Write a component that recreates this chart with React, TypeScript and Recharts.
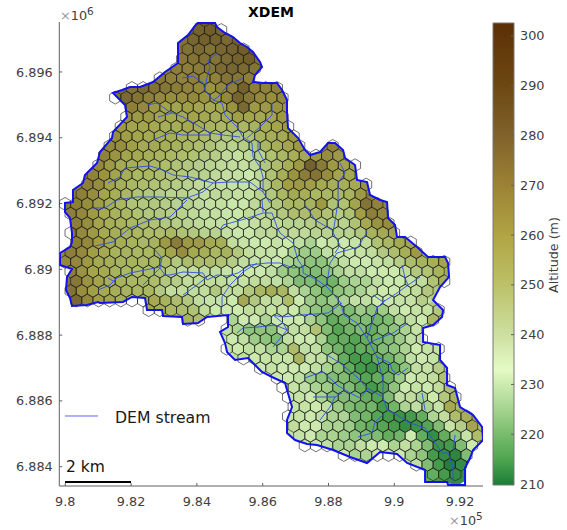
import React from 'react';
import { ScatterChart, Scatter, XAxis, YAxis, BarChart, Bar } from 'recharts';

const FONT = '"DejaVu Sans", sans-serif';
const INK = '#404040';

// Axis ticks (metres, UTM-like) and their labels
const xTickValues = [980000, 982000, 984000, 986000, 988000, 990000, 992000];
const xTickLabels = ['9.8', '9.82', '9.84', '9.86', '9.88', '9.9', '9.92'];
const yTickValues = [6884000, 6886000, 6888000, 6890000, 6892000, 6894000, 6896000];
const yTickLabels = ['6.884', '6.886', '6.888', '6.89', '6.892', '6.894', '6.896'];
const barTicks = [210, 220, 230, 240, 250, 260, 270, 280, 290, 300];

// DEM colour map
const colorAlt = [209.8, 215, 220, 225, 230, 233, 240, 250, 260, 270, 280, 290, 302.6];
const colorHex = ['#1a7d36', '#4fa650', '#79bc6e', '#a5d48f', '#cdeaaf', '#e4fbc6', '#cde0a0', '#bcc168', '#b1a444', '#9c8235', '#80622a', '#6d4812', '#5c2f05'];

// Map grid: all positions are DEM cells (about 30.4 m) from the 9.8 / 6.884 origin
const CELL = 30.4;
const hexColStep = 11.15;
const hexRowStep = 9.66;
const hexOriginX = 145;
const hexOriginY = 437;

// First hex column of every row, then altitudes (m) read west to east
const rowFirstCol = [-1, -2, -2, -3, -3, -5, -7, -9, -7, -8, -8, -9, -9, -10, -10, -11, -11, -12, -13, -13, -12, -13, -12, -13, -13, -13, -12, -13, -12, -6, -2, 1, 2, 1, 3, 4, 6, 6, 7, 7, 7, 7, 8, 8, 12, 18, 20];
const rowAltitudes: (number | null)[][] = [
  [282, 284, 280],
  [280, 283, 282, 279],
  [276, 279, 276, 280, 282, 284],
  [274, 275, 276, 275, 279, 282, 284],
  [271, 271, 272, 274, 279, 280, 279, 275],
  [274, 271, 270, 271, 268, 270, 275, 274, 271],
  [276, 279, 276, 274, 272, 270, 268, 264, 268, 271, 282, 271, 270, 271],
  [276, 279, 275, 271, 268, 266, 266, 268, 264, 262, 268, 281, 274, 268, 266, 268],
  [271, 268, 262, 258, 258, 260, 258, 256, 256, 264, 279, 262, 262, 264],
  [265, 262, 262, 258, 256, 256, 258, 256, 254, 256, 260, 258, 256, 258, 262],
  [262, 258, 258, 256, 254, 254, 256, 254, 252, 250, 250, 250, 252, 254, 258, 262],
  [266, 260, 258, 256, 254, 254, 252, 250, 248, 246, 244, 244, 246, 252, 254, 256, 262],
  [268, 266, 260, 256, 256, 254, 252, 250, 248, 246, 242, 240, 242, 244, 250, 254, 258, 262, null, null, 270],
  [270, 264, 258, 256, 254, 252, 250, 248, 246, 244, 242, 238, 236, 238, 240, 246, 250, 254, 256, 262, 266, 262],
  [268, 262, 256, 254, 252, 250, 248, 246, 244, 242, 240, 238, 237, 236, 238, 244, 248, 254, 262, 282, 273, 262, 258, 256],
  [270, 264, 258, 254, 250, 250, 248, 246, 244, 242, 240, 238, 236, 236, 234, 238, 246, 254, 264, 272, 275, 266, 258, 256],
  [271, 266, 258, 254, 250, 248, 246, 244, 242, 240, 238, 237, 236, 235, 235, 236, 242, 250, 260, 262, 260, 256, 254, 254, 256, 264],
  [271, 266, 258, 254, 250, 246, 244, 242, 240, 240, 238, 236, 238, 238, 236, 236, 240, 244, 250, 256, 254, 250, 250, 250, 252, 262],
  [273, 271, 266, 260, 254, 250, 246, 244, 244, 242, 240, 240, 238, 236, 236, 234, 234, 238, 240, 244, 250, 250, 252, 262, 246, 246, 258, 275, 270],
  [271, 268, 262, 256, 252, 250, 246, 244, 244, 242, 240, 238, 236, 236, 234, 234, 238, 238, 240, 244, 248, 248, 250, 246, 242, 246, 260, 271, 268],
  [271, 266, 258, 254, 252, 250, 248, 246, 244, 242, 240, 238, 236, 236, 234, 234, 236, 238, 238, 240, 240, 242, 244, 240, 240, 246, 256, 264, 266],
  [274, 268, 262, 256, 254, 252, 250, 248, 248, 250, 246, 244, 240, 240, 236, 234, 234, 238, 238, 238, 238, 238, 240, 240, 240, 240, 244, 252, 256, 258],
  [272, 268, 260, 256, 254, 252, 250, 252, 262, 272, 262, 262, 256, 254, 237, 235, 233, 233, 235, 233, 231, 228, 233, 235, 233, 235, 237, 246, 250, 256, 258],
  [271, 268, 260, 256, 252, 252, 250, 250, 252, 258, 266, 256, 254, 250, 252, 244, 237, 235, 235, 233, 228, 226, 226, 231, 233, 233, 235, 237, 244, 248, 254, 262],
  [268, 268, 262, 256, 254, 252, 252, 250, 250, 248, 244, 248, 248, 248, 246, 242, 237, 235, 235, 233, 228, 226, 224, 224, 228, 231, 233, 233, 235, 237, 242, 248, 252, 254, 258],
  [271, 264, 258, 256, 252, 250, 248, 248, 246, 242, 237, 237, 237, 237, 235, 233, 233, 233, 231, 226, 224, 222, 222, 224, 228, 231, 231, 233, 233, 233, 237, 244, 246, 252],
  [274, 264, 258, 254, 252, 250, 250, 248, 244, 242, 237, 237, 237, 237, 235, 235, 237, 237, 231, 228, 222, 222, 220, 220, 226, 228, 228, 231, 233, 233, 235, 237, 246, 254],
  [275, 266, 260, 256, 254, 252, 250, 250, 244, 237, 237, 237, 237, 244, 237, 237, 244, 250, 254, 250, 237, 228, 224, 220, 224, 226, 228, 231, 233, 233, 235, 237, 244],
  [279, 268, 260, 258, 254, 250, 256, 256, 252, 248, 244, 237, 235, 235, 233, 256, 244, 237, 237, 248, 233, 226, 224, 226, 228, 231, 231, 233, 233, 235, 235, 242],
  [258, 254, 250, 248, 246, 237, 233, 233, 233, 237, 237, 235, 235, 233, 228, 224, 222, 224, 222, 226, 224, 226, 231, 233, 235, 235, 244],
  [252, 248, null, null, 228, 233, 233, 228, 233, 233, 233, 228, 224, 218, 220, 222, 222, 220, 222, 228, 231, 233, 250],
  [231, 228, 224, 224, 224, 231, 231, 231, 246, 222, 216, 220, 222, 218, 222, 224, 228, 235],
  [233, 231, 226, 224, 222, 231, 233, 233, 228, 218, 218, 216, 218, 220, 222, 226, 231, 237],
  [235, 233, 231, 231, 228, 228, 248, 231, 231, 224, 220, 216, 218, 218, 222, 224, 228, 233, 235, 235],
  [231, 233, 235, 235, 235, 252, 235, 231, 228, 218, 214, 214, 218, 220, 224, 231, 233, 235],
  [233, 235, 233, 233, 233, 231, 228, 224, 218, 214, 213, 216, 218, 224, 231, 235, 242],
  [233, 233, 231, 226, 224, 222, 222, 218, 216, 218, 220, 226, 233, 235, 237, 246],
  [235, 235, 231, 228, 226, 222, 222, 218, 214, 216, 224, 233, 235, 233, 237, 248],
  [235, 235, 233, 228, 222, 222, 222, 218, 216, 222, 231, 237, 228, 233, 244, 252],
  [235, 235, 233, 231, 226, 222, 220, 220, 214, 220, 228, 231, 228, 235, 256],
  [235, 235, 233, 231, 228, 228, 222, 220, 216, 214, 213, 214, 218, 228, 237, 248, 254],
  [237, 233, 233, 228, 228, 226, 220, 218, 216, 214, 212, 213, 216, 222, 235, 242, 258],
  [235, 233, 228, 228, 226, 224, 222, 222, 218, 220, 233, 218, 212, 218, 224, 235, 248],
  [235, 233, 231, 228, 228, 231, 233, 233, 228, 231, 228, 222, 213, 214, 222, 233],
  [233, 228, 228, 233, 235, 233, 228, 224, 214, 212, 211, 222],
  [231, 222, 214, 210, 212],
  [218, 214, 212],
];

// Basin outline in DEM cells, clockwise from the northern summit
const basinCells = [
  [132, 444], [150, 444], [152, 440], [160, 434], [168, 430], [175, 424], [182, 420], [188, 415], [195, 405], [197, 400], [190, 392], [188, 385], [198, 384], [212, 384], [217, 377], [222, 367], [222, 354], [223, 339], [225, 337], [233, 329], [240, 317], [245, 312], [255, 315], [263, 324], [270, 324], [278, 317], [280, 309], [290, 302], [292, 287], [302, 285], [305, 272], [315, 267], [322, 265], [323, 249], [330, 242], [332, 230], [340, 230], [352, 220], [363, 210], [380, 210], [383, 204], [384, 190], [375, 180], [368, 167], [378, 157], [377, 150], [368, 142], [358, 139], [358, 125], [375, 122], [375, 107], [382, 99], [382, 82], [390, 79], [395, 60], [408, 52], [417, 40], [418, 27], [408, 17], [405, 9], [400, -1], [400, -18], [383, -18], [382, -15], [360, -15], [360, -3], [342, 4], [332, 13], [315, 15], [302, 4], [285, 10], [268, 17], [252, 22], [242, 23], [230, 27], [222, 34], [222, 47], [227, 60], [222, 77], [220, 84], [207, 90], [197, 95], [183, 109], [170, 107], [162, 115], [160, 124], [155, 135], [163, 140], [163, 152], [142, 150], [133, 144], [118, 143], [117, 150], [98, 151], [97, 157], [82, 157], [80, 169], [67, 170], [58, 165], [35, 164], [33, 165], [22, 162], [7, 161], [5, 169], [1, 177], [2, 190], [7, 198], [-5, 202], [-5, 214], [5, 220], [7, 225], [7, 234], [5, 249], [0, 255], [0, 264], [8, 265], [8, 277], [18, 284], [20, 292], [32, 304], [35, 315], [47, 329], [48, 335], [62, 350], [60, 362], [55, 367], [48, 374], [57, 377], [65, 380], [75, 380], [88, 385], [100, 395], [113, 404], [113, 424], [123, 432], [132, 444],
];

// DEM stream network, one list per reach, in DEM cells
const streamReaches = [
  [[153, 414], [143, 407], [145, 399], [142, 390], [140, 377], [148, 367], [157, 364], [160, 352], [172, 340], [178, 330], [187, 324], [188, 310], [195, 300], [198, 290], [198, 275]],
  [[117, 389], [128, 391], [138, 384], [140, 377]],
  [[178, 389], [163, 382], [153, 370], [148, 367]],
  [[207, 364], [207, 352], [195, 340], [182, 329]],
  [[82, 362], [92, 364], [105, 355], [118, 350], [132, 342], [145, 334], [158, 332], [175, 330]],
  [[93, 350], [107, 354]],
  [[88, 327], [105, 334], [118, 332], [145, 332]],
  [[43, 284], [55, 290], [60, 299], [85, 301], [98, 297], [108, 292], [125, 290], [148, 284], [165, 285], [185, 285], [198, 275], [205, 264]],
  [[27, 259], [40, 259], [52, 267], [72, 270], [92, 270], [122, 269], [138, 275], [148, 284]],
  [[30, 221], [48, 225], [65, 239], [85, 247], [105, 250], [122, 267]],
  [[155, 237], [158, 242], [180, 248], [198, 254], [207, 254], [212, 240], [215, 234], [228, 224], [233, 207], [238, 200], [238, 194], [252, 187], [262, 180], [275, 165], [279, 152], [292, 144], [302, 129], [312, 110], [318, 87], [318, 70], [322, 57], [332, 52], [345, 44], [360, 39], [368, 27], [377, 14], [383, 14], [388, 0], [388, -16]],
  [[197, 267], [198, 255]],
  [[98, 192], [105, 192], [118, 195], [138, 194], [142, 187], [152, 192], [162, 191], [173, 194], [185, 202], [202, 204], [215, 204], [228, 199], [238, 200]],
  [[90, 217], [97, 209], [95, 199], [100, 192]],
  [[33, 177], [45, 182], [52, 189], [65, 194], [95, 200]],
  [[78, 182], [95, 199]],
  [[43, 189], [50, 185]],
  [[118, 172], [132, 182], [142, 190]],
  [[157, 160], [157, 170], [165, 182], [178, 195], [192, 204]],
  [[262, 112], [275, 104], [292, 90], [302, 79], [318, 70]],
  [[240, 89], [248, 92], [258, 95], [272, 82], [285, 74], [295, 69], [302, 77]],
  [[248, 70], [270, 70], [277, 74]],
  [[255, 47], [265, 60], [270, 70]],
  [[293, 30], [307, 34], [310, 45], [318, 52]],
  [[357, 74], [360, 57]],
  [[390, 32], [388, 17]],
  [[302, 235], [293, 220], [272, 214], [265, 204], [262, 184]],
  [[275, 304], [280, 294], [273, 284], [273, 265], [268, 234], [275, 222], [270, 214]],
  [[240, 262], [250, 247], [267, 237]],
  [[337, 202], [340, 189], [343, 182], [355, 190]],
  [[343, 182], [332, 174], [318, 165], [308, 172]],
  [[343, 144], [328, 134], [310, 127], [305, 124]],
  [[343, 99], [333, 92], [327, 97], [325, 104], [312, 110]],
  [[320, 167], [312, 159], [308, 147], [302, 129]],
  [[208, 152], [217, 150], [238, 152], [263, 154], [277, 164]],
  [[172, 134], [178, 139], [193, 140], [210, 142], [222, 137], [208, 120]],
  [[208, 152], [218, 144], [222, 137]],
  [[193, 327], [193, 317], [200, 304]],
];

const legendSample = [[0, 51], [33, 51]];
const scaleBarCells = [[0, -15], [66, -15]];

const toX = (cell: number) => 980000 + (cell - 0.3) * CELL;
const toY = (cell: number) => 6884000 + (cell - 0.3) * CELL;
const toPoints = (cells: number[][]) => cells.map(([a, b]) => ({ x: toX(a), y: toY(b) }));

// the hexagons appear slightly muted and greener than the colour bar
const hexGain = [0.84, 0.86, 0.8];
const hexLift = [12, 18, 16];
const altToColor = (alt: number) => {
  const parse = (h: string) => [1, 3, 5].map((i) => parseInt(h.slice(i, i + 2), 16));
  let i = 0;
  while (i < colorAlt.length - 2 && alt > colorAlt[i + 1]) i++;
  const t = Math.max(0, Math.min(1, (alt - colorAlt[i]) / (colorAlt[i + 1] - colorAlt[i])));
  const a = parse(colorHex[i]);
  const b = parse(colorHex[i + 1]);
  return `rgb(${a.map((v, k) => Math.round((v + (b[k] - v) * t) * hexGain[k] + hexLift[k])).join(',')})`;
};

const hexData = rowAltitudes.flatMap((row, r) =>
  row.flatMap((alt, k) => {
    if (alt === null) return [];
    const col = rowFirstCol[r] + k;
    return [{
      x: toX(hexOriginX + col * hexColStep + (r % 2) * hexColStep * 0.5),
      y: toY(hexOriginY - r * hexRowStep),
      alt,
    }];
  }),
);

const HEX_R = 6.44;
const hexPoints = (cx: number, cy: number, R: number) =>
  [30, 90, 150, 210, 270, 330]
    .map((d) => `${cx + R * Math.cos((d * Math.PI) / 180)},${cy + R * Math.sin((d * Math.PI) / 180)}`)
    .join(' ');

const UnderlayHex = (p: any) => (
  <polygon points={hexPoints(p.cx, p.cy, HEX_R * 1.9)} fill={altToColor(p.payload.alt)} clipPath="url(#basinClip)" />
);
const FillHex = (p: any) => (
  <polygon points={hexPoints(p.cx, p.cy, HEX_R)} fill={altToColor(p.payload.alt)} clipPath="url(#basinClip)" />
);
const OutlineHex = (p: any) => (
  <polygon points={hexPoints(p.cx, p.cy, HEX_R)} fill="none" stroke="#1c1c1c" strokeOpacity={0.66} strokeWidth={0.95} />
);
const NoPoint = () => <g />;
const BasinLine = (p: any) => {
  const pts = p.points.map((q: any) => `${q.x},${q.y}`).join(' ');
  return (
    <g>
      <clipPath id="basinClip"><polygon points={pts} /></clipPath>
      <polyline points={pts} fill="none" stroke="#1212f0" strokeWidth={2} strokeLinejoin="miter" />
    </g>
  );
};

const xTickFmt = (v: number) => xTickLabels[xTickValues.indexOf(v)];
const yTickFmt = (v: number) => yTickLabels[yTickValues.indexOf(v)];
const tickStyle = { fontSize: 12.8, fill: INK, fontFamily: FONT };

export default function App() {
  const barData = [{ name: 'altitude', range: [colorAlt[0], colorAlt[colorAlt.length - 1]] }];
  const top = colorAlt[colorAlt.length - 1];
  const span = top - colorAlt[0];
  const gradientAlt = [...colorAlt].reverse();
  const gradientHex = [...colorHex].reverse();
  return (
    <div style={{ position: 'absolute', left: 0, top: 0, width: 567, height: 530, background: '#fff', overflow: 'hidden', fontFamily: FONT }}>
      <div style={{ position: 'absolute', left: 0, top: 0 }}>
        <ScatterChart width={567} height={530} margin={{ top: 22, right: 84, left: 0, bottom: 0 }}>
          <XAxis type="number" dataKey="x" domain={[979818, 992696]} ticks={xTickValues} tickFormatter={xTickFmt} height={44} tickSize={-3} tickMargin={14} stroke="#606060" tick={tickStyle} interval={0} allowDataOverflow />
          <YAxis type="number" dataKey="y" domain={[6883413, 6897519]} ticks={yTickValues} tickFormatter={yTickFmt} width={59.3} tickSize={-3} tickMargin={9.6} stroke="#606060" tick={tickStyle} interval={0} allowDataOverflow />
          <Scatter data={hexData} shape={UnderlayHex} isAnimationActive={false} />
          <Scatter data={hexData} shape={FillHex} isAnimationActive={false} />
          <Scatter data={hexData} shape={OutlineHex} isAnimationActive={false} />
          {streamReaches.map((reach, i) => (
            <Scatter key={i} data={toPoints(reach)} line={{ stroke: '#2f4fe6', strokeWidth: 0.9 }} lineType="joint" shape={NoPoint} isAnimationActive={false} />
          ))}
          <Scatter data={toPoints(basinCells)} line={BasinLine} lineType="joint" shape={NoPoint} isAnimationActive={false} />
          <Scatter data={toPoints(legendSample)} line={{ stroke: '#3a3af0', strokeWidth: 0.8 }} lineType="joint" shape={NoPoint} isAnimationActive={false} />
          <Scatter data={toPoints(scaleBarCells)} line={{ stroke: '#000', strokeWidth: 2 }} lineType="joint" shape={NoPoint} isAnimationActive={false} />
          <text x={271} y={17} textAnchor="middle" fontSize={14} fontWeight="bold" fill="#000" fontFamily={FONT}>XDEM</text>
          <text x={60} y={19.5} fontSize={12.8} fill={INK} fontFamily={FONT}><tspan fill="#999">×</tspan>10<tspan dy={-5} fontSize={10.5}>6</tspan></text>
          <text x={449} y={525} fontSize={12.8} fill={INK} fontFamily={FONT}><tspan fill="#999">×</tspan>10<tspan dy={-5} fontSize={10.5}>5</tspan></text>
          <text x={115} y={422.5} fontSize={15.7} fill="#1a1a1a" fontFamily={FONT}>DEM stream</text>
          <text x={66} y={472} fontSize={15.5} fill="#111" fontFamily={FONT}>2 km</text>
        </ScatterChart>
      </div>
      <div style={{ position: 'absolute', left: 0, top: 0 }}>
        <BarChart width={567} height={530} data={barData} margin={{ top: 23, right: 0, left: 493, bottom: 45 }} barCategoryGap={0}>
          <defs>
            <linearGradient id="demGradient" x1="0" y1="0" x2="0" y2="1">
              {gradientAlt.map((a, i) => (
                <stop key={a} offset={(top - a) / span} stopColor={gradientHex[i]} />
              ))}
            </linearGradient>
          </defs>
          <XAxis dataKey="name" hide />
          <YAxis orientation="right" domain={[colorAlt[0], top]} ticks={barTicks} width={53} tickSize={-3} tickMargin={9} stroke="#606060" tick={tickStyle} interval={0} axisLine={false} />
          <Bar dataKey="range" fill="url(#demGradient)" stroke="#777" strokeWidth={1} isAnimationActive={false} />
          <text transform="translate(558,255) rotate(-90)" textAnchor="middle" fontSize={12.7} fill={INK} fontFamily={FONT}>Altitude (m)</text>
        </BarChart>
      </div>
    </div>
  );
}
